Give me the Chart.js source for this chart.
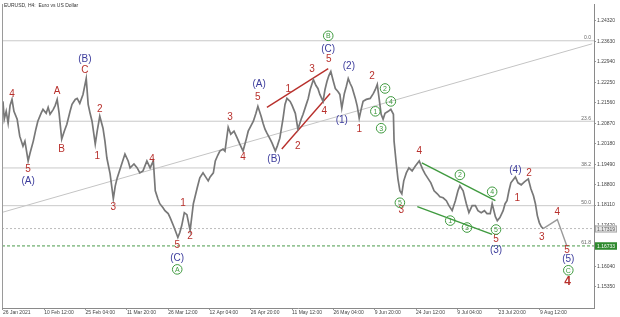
<!DOCTYPE html>
<html>
<head>
<meta charset="utf-8">
<script src="https://cdn.jsdelivr.net/npm/chart.js@4"></script>
<style>
html,body{margin:0;padding:0;background:#fff;}
</style>
</head>
<body>
<canvas id="grafica" width="620" height="317"></canvas>
<script>

// DATOS (barra H4, precio)

const priceSeries = [
  [0,1.21606],[2,1.21004],[5,1.21271],[8,1.20870],[11,1.21472],[14,1.21673],[17,1.21271],[22,1.21004],[26,1.20434],[31,1.20099],
  [34,1.20267],[39,1.19597],[42,1.19865],[47,1.20267],[51,1.20669],[54,1.20937],[59,1.21204],[62,1.21338],[67,1.21204],[70,1.21405],
  [73,1.21171],[78,1.21338],[81,1.21472],[84,1.21673],[87,1.21204],[91,1.20334],[95,1.20602],[99,1.20836],[104,1.21271],[107,1.21506],
  [112,1.21673],[115,1.21707],[119,1.21539],[124,1.21841],[129,1.22377],[132,1.21506],[135,1.21204],[138,1.20937],[143,1.20166],[146,1.20602],
  [150,1.21104],[155,1.20702],[158,1.20267],[161,1.19697],[166,1.19161],[171,1.18324],[174,1.18759],[177,1.19027],[183,1.19429],[189,1.19831],
  [194,1.19597],[197,1.19362],[203,1.19496],[208,1.19362],[212,1.19195],[217,1.19262],[223,1.19597],[228,1.19362],[233,1.19597],[236,1.18592],
  [240,1.18324],[243,1.18157],[248,1.18023],[251,1.17922],[256,1.17822],[259,1.17688],[264,1.17420],[267,1.17252],[271,1.17018],[274,1.17185],
  [277,1.17420],[281,1.17855],[285,1.17788],[290,1.17252],[295,1.18157],[298,1.18424],[301,1.18692],[305,1.19027],[310,1.19195],[313,1.19094],
  [318,1.18927],[321,1.19061],[326,1.19195],[329,1.19597],[333,1.19798],[336,1.19932],[341,1.19999],[344,1.19932],[349,1.20736],[353,1.20501],
  [358,1.20602],[363,1.20367],[367,1.20166],[372,1.19932],[377,1.20334],[380,1.20602],[384,1.20769],[388,1.20937],[392,1.21204],[395,1.21439],
  [400,1.21104],[403,1.20870],[406,1.20669],[409,1.20535],[414,1.20334],[417,1.20200],[422,1.19932],[425,1.20099],[429,1.20367],[434,1.21037],
  [437,1.21506],[440,1.21707],[445,1.21606],[448,1.21472],[453,1.21204],[457,1.20669],[462,1.21004],[465,1.21171],[470,1.21506],[473,1.21707],
  [476,1.22008],[481,1.22343],[485,1.22142],[488,1.22042],[491,1.21841],[496,1.21606],[499,1.22008],[502,1.22276],[505,1.22477],[508,1.22612],
  [512,1.22276],[515,1.22042],[519,1.21941],[522,1.21841],[525,1.21372],[529,1.21874],[532,1.22109],[535,1.22377],[538,1.22209],[541,1.22075],
  [546,1.21707],[549,1.21439],[552,1.21037],[555,1.21338],[558,1.21606],[563,1.21673],[569,1.21707],[574,1.21874],[577,1.22008],[580,1.22176],
  [583,1.21673],[586,1.21171],[589,1.21004],[592,1.21204],[597,1.21271],[601,1.21338],[605,1.21171],[606,1.20267],[609,1.19597],[612,1.18994],
  [615,1.18592],[618,1.18491],[621,1.18927],[625,1.19195],[629,1.19362],[634,1.19262],[639,1.19429],[645,1.19597],[650,1.19329],[654,1.19161],
  [659,1.18994],[663,1.18860],[668,1.18592],[673,1.18491],[677,1.18391],[682,1.18357],[687,1.18257],[691,1.18090],[696,1.17922],[701,1.18257],
  [705,1.18592],[708,1.18759],[713,1.18592],[718,1.18157],[722,1.17855],[727,1.18090],[732,1.18090],[736,1.17922],[741,1.17855],[746,1.17922],
  [750,1.17822],[755,1.17822],[758,1.18157],[763,1.17721],[766,1.17587],[770,1.17688],[775,1.17922],[778,1.18157],[781,1.18257],[784,1.18592],
  [787,1.18860],[794,1.19061],[798,1.18860],[803,1.18793],[808,1.18893],[814,1.18994],[818,1.18659],[822,1.18424],[825,1.18157],[828,1.17755],
  [831,1.17520],[834,1.17386],[837,1.17319]
];

const forecast = [[837,1.17319],[859,1.17621],[874,1.16716]];

const fibLevels = ['0.0','23.6','38.2','50.0','61.8'];
const fibPrices = [1.23650,1.20937,1.19362,1.18090,1.16733];

const trendLine = [[0,1.17872],[913,1.23549]];
const redLines = [
  [[409,1.21405],[504,1.22712]],
  [[432,1.19999],[507,1.21874]]
];
const greenLines = [
  [[649,1.19530],[763,1.18257]],
  [[642,1.18056],[758,1.17123]]
];

const xTickBars = [0,64,128,192,256,320,384,448,512,576,640,704,768,832];
const xTickLabels = ['26 Jan 2021','10 Feb 12:00','25 Feb 04:00','11 Mar 20:00','26 Mar 12:00','12 Apr 04:00','26 Apr 20:00',
  '11 May 12:00','26 May 04:00','9 Jun 20:00','24 Jun 12:00','9 Jul 04:00','23 Jul 20:00','9 Aug 12:00'];
const yTicks = [1.15350,1.16040,1.16730,1.17420,1.18110,1.18800,1.19490,1.20180,1.20870,1.21560,1.22250,1.22940,1.23630,1.24320];

// etiquetas de ondas (texto, barra, precio)
const redLabels = [
  ['4',14,1.21841],['5',39,1.19329],['A',84,1.21941],['B',91,1.19999],['C',127,1.22645],['1',146,1.19764],['2',150,1.21338],
  ['3',171,1.18023],['4',231,1.19664],['5',270,1.16750],['1',279,1.18157],['2',290,1.17051],['3',352,1.21071],['4',372,1.19731],
  ['5',395,1.21740],['1',442,1.22008],['2',457,1.20099],['3',479,1.22678],['4',498,1.21271],['5',505,1.23013],['1',552,1.20669],
  ['2',572,1.22444],['3',617,1.17922],['4',645,1.19932],['5',764,1.16951],['1',797,1.18357],['2',815,1.19195],['3',835,1.17018],
  ['4',859,1.17855],['5',874,1.16582]
];
const bigLabels = [['4',875,1.15544]];
const blueLabels = [
  ['(A)',39,1.18927],['(B)',127,1.23013],['(C)',270,1.16314],['(A)',397,1.22176],['(B)',420,1.19664],['(C)',504,1.23348],
  ['(1)',525,1.20970],['(2)',536,1.22779],['(3)',764,1.16582],['(4)',794,1.19295],['(5)',876,1.16281]
];
const greenLabels = [
  ['A',270,1.15942],['B',504,1.23817],['C',876,1.15912],['1',577,1.21271],['2',592,1.22042],['3',586,1.20702],['4',601,1.21606],
  ['5',615,1.18190],['1',693,1.17587],['2',708,1.19128],['3',719,1.17353],['4',758,1.18559],['5',764,1.17286]
];

const ROJO = '#b8302c';
const AZUL = '#3c3c9c';
const VERDE = '#3f9a3f';
const FUENTE = '"Liberation Sans", Arial, sans-serif';

const pts = arr => arr.map(p => ({x: p[0], y: p[1]}));
const xMin = -1.5, xMax = 915.8;

const datasets = [
  {data: pts(priceSeries), borderColor: '#787878', borderWidth: 1.7},
  {data: pts(forecast), borderColor: '#9a9a9a', borderWidth: 1.4}
];
redLines.forEach(l => datasets.push({data: pts(l), borderColor: ROJO, borderWidth: 1.4}));
greenLines.forEach(l => datasets.push({data: pts(l), borderColor: VERDE, borderWidth: 1.4}));
fibPrices.forEach((p, i) => datasets.push({
  data: [{x: xMin, y: p}, {x: xMax, y: p}],
  borderColor: i === 4 ? '#4a9a4a' : '#c9c9c9',
  borderDash: i === 4 ? [3, 2] : [],
  borderWidth: 1
}));
datasets.push({data: pts(trendLine), borderColor: '#c4c4c4', borderWidth: 1});
datasets.push({
  data: [{x: xMin, y: forecast[0][1]}, {x: xMax, y: forecast[0][1]}],
  borderColor: '#bdbdbd', borderDash: [2, 2], borderWidth: 1
});

// DIBUJO DE ETIQUETAS

const marcas = {
  id: 'marcas',
  afterDatasetsDraw(chart) {
    const {ctx, chartArea: a, scales: {x, y}} = chart;
    ctx.save();
    ctx.strokeStyle = '#9a9a9a';
    ctx.lineWidth = 1;
    ctx.beginPath();
    ctx.moveTo(a.left + 0.5, a.top);
    ctx.lineTo(a.left + 0.5, a.bottom);
    ctx.stroke();

    // niveles fibo
    ctx.font = '5px ' + FUENTE;
    ctx.fillStyle = '#666';
    ctx.textAlign = 'right';
    ctx.textBaseline = 'bottom';
    fibLevels.forEach((t, i) => ctx.fillText(t, a.right - 3, y.getPixelForValue(fibPrices[i]) - 0.5));

    ctx.textAlign = 'center';
    ctx.textBaseline = 'middle';
    ctx.font = '10px ' + FUENTE;
    ctx.fillStyle = ROJO;
    redLabels.forEach(([t, b, p]) => ctx.fillText(t, x.getPixelForValue(b), y.getPixelForValue(p)));
    ctx.font = 'bold 12px ' + FUENTE;
    bigLabels.forEach(([t, b, p]) => ctx.fillText(t, x.getPixelForValue(b), y.getPixelForValue(p)));
    ctx.font = '10px ' + FUENTE;
    ctx.fillStyle = AZUL;
    blueLabels.forEach(([t, b, p]) => ctx.fillText(t, x.getPixelForValue(b), y.getPixelForValue(p)));

    ctx.strokeStyle = VERDE;
    ctx.fillStyle = VERDE;
    ctx.lineWidth = 1;
    ctx.font = '7px ' + FUENTE;
    greenLabels.forEach(([t, b, p]) => {
      const cx = x.getPixelForValue(b), cy = y.getPixelForValue(p);
      ctx.beginPath();
      ctx.arc(cx, cy, 4.8, 0, Math.PI * 2);
      ctx.stroke();
      ctx.fillText(t, cx, cy + 0.5);
    });
    ctx.restore();
  },
  afterDraw(chart) {
    const {ctx, chartArea: a, scales: {y}} = chart;
    ctx.save();
    ctx.font = '5px ' + FUENTE;
    ctx.textBaseline = 'middle';
    ctx.textAlign = 'left';
    ctx.fillStyle = '#333';
    ctx.fillText('EURUSD, H4:  Euro vs US Dollar', a.left + 2, 6);

    const caja = (p, fondo, borde, texto) => {
      const py = Math.round(y.getPixelForValue(p));
      ctx.fillStyle = fondo;
      ctx.fillRect(a.right + 1, py - 3.5, 22, 7);
      ctx.strokeStyle = borde;
      ctx.strokeRect(a.right + 1.5, py - 3, 21, 6);
      ctx.fillStyle = texto;
      ctx.fillText(p.toFixed(5), a.right + 3, py + 0.5);
    };
    caja(forecast[0][1], '#e6e6e6', '#aaaaaa', '#555');
    caja(fibPrices[4], '#2f8a2f', '#2f8a2f', '#fff');
    ctx.restore();
  }
};

// GRAFICA

new Chart(document.getElementById('grafica'), {
  type: 'line',
  data: {datasets},
  options: {
    responsive: false,
    animation: false,
    events: [],
    layout: {padding: {left: 2, top: 2, right: 0, bottom: 0}},
    elements: {point: {radius: 0}, line: {tension: 0}},
    plugins: {legend: {display: false}, tooltip: {enabled: false}},
    scales: {
      x: {
        type: 'linear',
        min: xMin,
        max: xMax,
        afterBuildTicks: s => { s.ticks = xTickBars.map(v => ({value: v})); },
        afterFit: s => { s.height = 9; },
        grid: {drawOnChartArea: false, drawTicks: true, tickLength: 2, color: '#999'},
        border: {color: '#8a8a8a'},
        ticks: {
          align: 'start',
          maxRotation: 0,
          autoSkip: false,
          padding: 0,
          color: '#444',
          font: {size: 5, family: FUENTE},
          callback: v => xTickLabels[xTickBars.indexOf(v)]
        }
      },
      y: {
        position: 'right',
        min: 1.1464,
        max: 1.2489,
        afterBuildTicks: s => { s.ticks = yTicks.map(v => ({value: v})); },
        afterFit: s => { s.width = 26; },
        grid: {drawOnChartArea: false, drawTicks: true, tickLength: 2, color: '#999'},
        border: {color: '#8a8a8a'},
        ticks: {
          padding: 1,
          color: '#444',
          font: {size: 5, family: FUENTE},
          callback: v => v.toFixed(5)
        }
      }
    }
  },
  plugins: [marcas]
});

</script>
</body>
</html>
